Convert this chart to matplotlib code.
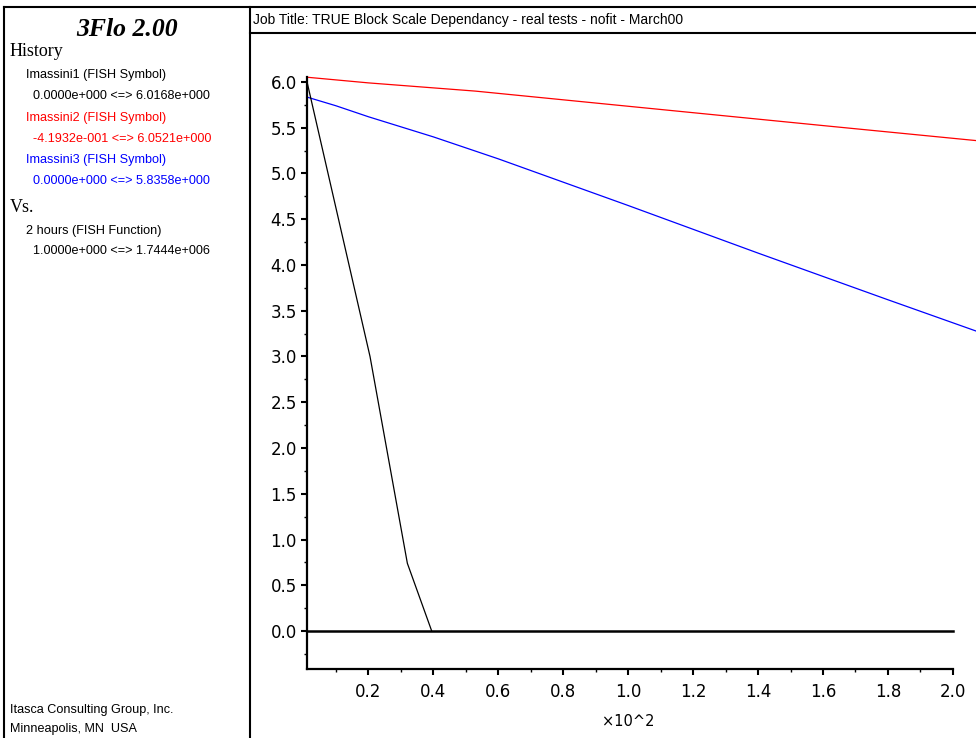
import matplotlib
matplotlib.use('Agg')
import matplotlib.pyplot as plt
from matplotlib.ticker import MultipleLocator
from matplotlib.lines import Line2D

# data (x in units of 10^2 hours)
x_black = [0.01, 0.205, 0.32, 0.395]
y_black = [6.0168, 3.0, 0.74, 0.0]

x_red = [0.01, 0.2, 0.53, 1.07, 1.61, 2.07]
y_red = [6.0521, 5.99, 5.90, 5.71, 5.52, 5.36]

x_blue = [0.01, 0.1, 0.2, 0.4, 0.6, 1.0, 1.4, 1.8, 2.07]
y_blue = [5.8358, 5.74, 5.62, 5.40, 5.16, 4.65, 4.13, 3.62, 3.28]

x_ticks = [0.2, 0.4, 0.6, 0.8, 1.0, 1.2, 1.4, 1.6, 1.8, 2.0]
y_ticks = [0.0, 0.5, 1.0, 1.5, 2.0, 2.5, 3.0, 3.5, 4.0, 4.5, 5.0, 5.5, 6.0]

W, H = 976, 738
fig = plt.figure(figsize=(W / 100, H / 100), dpi=100)

sans = ['Liberation Sans', 'DejaVu Sans']
wide = ['DejaVu Sans']
serif = ['Liberation Serif', 'DejaVu Serif']


def px(x, y):
    return x / W, 1 - y / H


# рамки
for (x0, y0), (x1, y1) in [((4, 7), (976, 7)), ((4, 7), (4, 738)),
                           ((250, 7), (250, 738)), ((250, 33), (976, 33))]:
    a, b = px(x0, y0)
    c, d = px(x1, y1)
    fig.add_artist(Line2D([a, c], [b, d], color='black', lw=1.5))

# левая панель
fig.text(*px(127, 30), '3Flo 2.00', family=serif, fontsize=18.5, weight='bold',
         style='italic', ha='center', va='center')
fig.text(*px(10, 52), 'History', family=serif, fontsize=13, va='center')
items = [
    (26, 75, 'Imassini1 (FISH Symbol)', 'black'),
    (33, 96, '0.0000e+000 <=> 6.0168e+000', 'black'),
    (26, 118, 'Imassini2 (FISH Symbol)', 'red'),
    (33, 139, '-4.1932e-001 <=> 6.0521e+000', 'red'),
    (26, 160, 'Imassini3 (FISH Symbol)', 'blue'),
    (33, 181, '0.0000e+000 <=> 5.8358e+000', 'blue'),
    (26, 231, '2 hours (FISH Function)', 'black'),
    (33, 251, '1.0000e+000 <=> 1.7444e+006', 'black'),
    (10, 710, 'Itasca Consulting Group, Inc.', 'black'),
    (10, 729, 'Minneapolis, MN  USA', 'black'),
]
for x, y, s, c in items:
    fig.text(*px(x, y), s, family=sans, fontsize=9.1, color=c, va='center')
fig.text(*px(10, 208), 'Vs.', family=serif, fontsize=13, va='center')
fig.text(*px(253, 20), 'Job Title: TRUE Block Scale Dependancy - real tests - nofit - March00',
         family=sans, fontsize=10, va='center')

# график
xmin, xmax = 0.01, 2.07
ymin, ymax = -0.41932, 6.0521
left = 306.7 / W
right = 975.6 / W
bottom = (H - 669.4) / H
top = (H - 77.2) / H
ax = fig.add_axes([left, bottom, right - left, top - bottom])
ax.set_xlim(xmin, xmax)
ax.set_ylim(ymin, ymax)
ax.patch.set_alpha(0)

ax.plot(x_red, y_red, color='red', lw=0.9, clip_on=False)
ax.plot(x_blue, y_blue, color='blue', lw=0.9, clip_on=False)
ax.plot(x_black, y_black, color='black', lw=0.9)
ax.plot([xmin, 2.0], [0, 0], color='black', lw=1.8)

for s in ['top', 'right']:
    ax.spines[s].set_visible(False)
ax.spines['bottom'].set_bounds(xmin, 2.0)
ax.spines['left'].set_linewidth(1.6)
ax.spines['bottom'].set_linewidth(1.6)

ax.set_xticks(x_ticks)
ax.set_xticklabels([f'{v:.1f}' for v in x_ticks])
ax.set_yticks(y_ticks)
ax.set_yticklabels([f'{v:.1f}' for v in y_ticks])
ax.xaxis.set_minor_locator(MultipleLocator(0.1))
ax.yaxis.set_minor_locator(MultipleLocator(0.25))
ax.tick_params(which='major', length=4.5, width=1.5, labelsize=12)
ax.tick_params(which='minor', length=2.5, width=1)
ax.tick_params(axis='x', which='major', pad=5)
ax.tick_params(axis='y', which='major', pad=2.5)
for lab in ax.get_xticklabels() + ax.get_yticklabels():
    lab.set_family(wide)

fig.text(*px(602, 722), '\u00d710^2', family=wide, fontsize=10.5, va='center')

plt.savefig('out.png', dpi=100)
